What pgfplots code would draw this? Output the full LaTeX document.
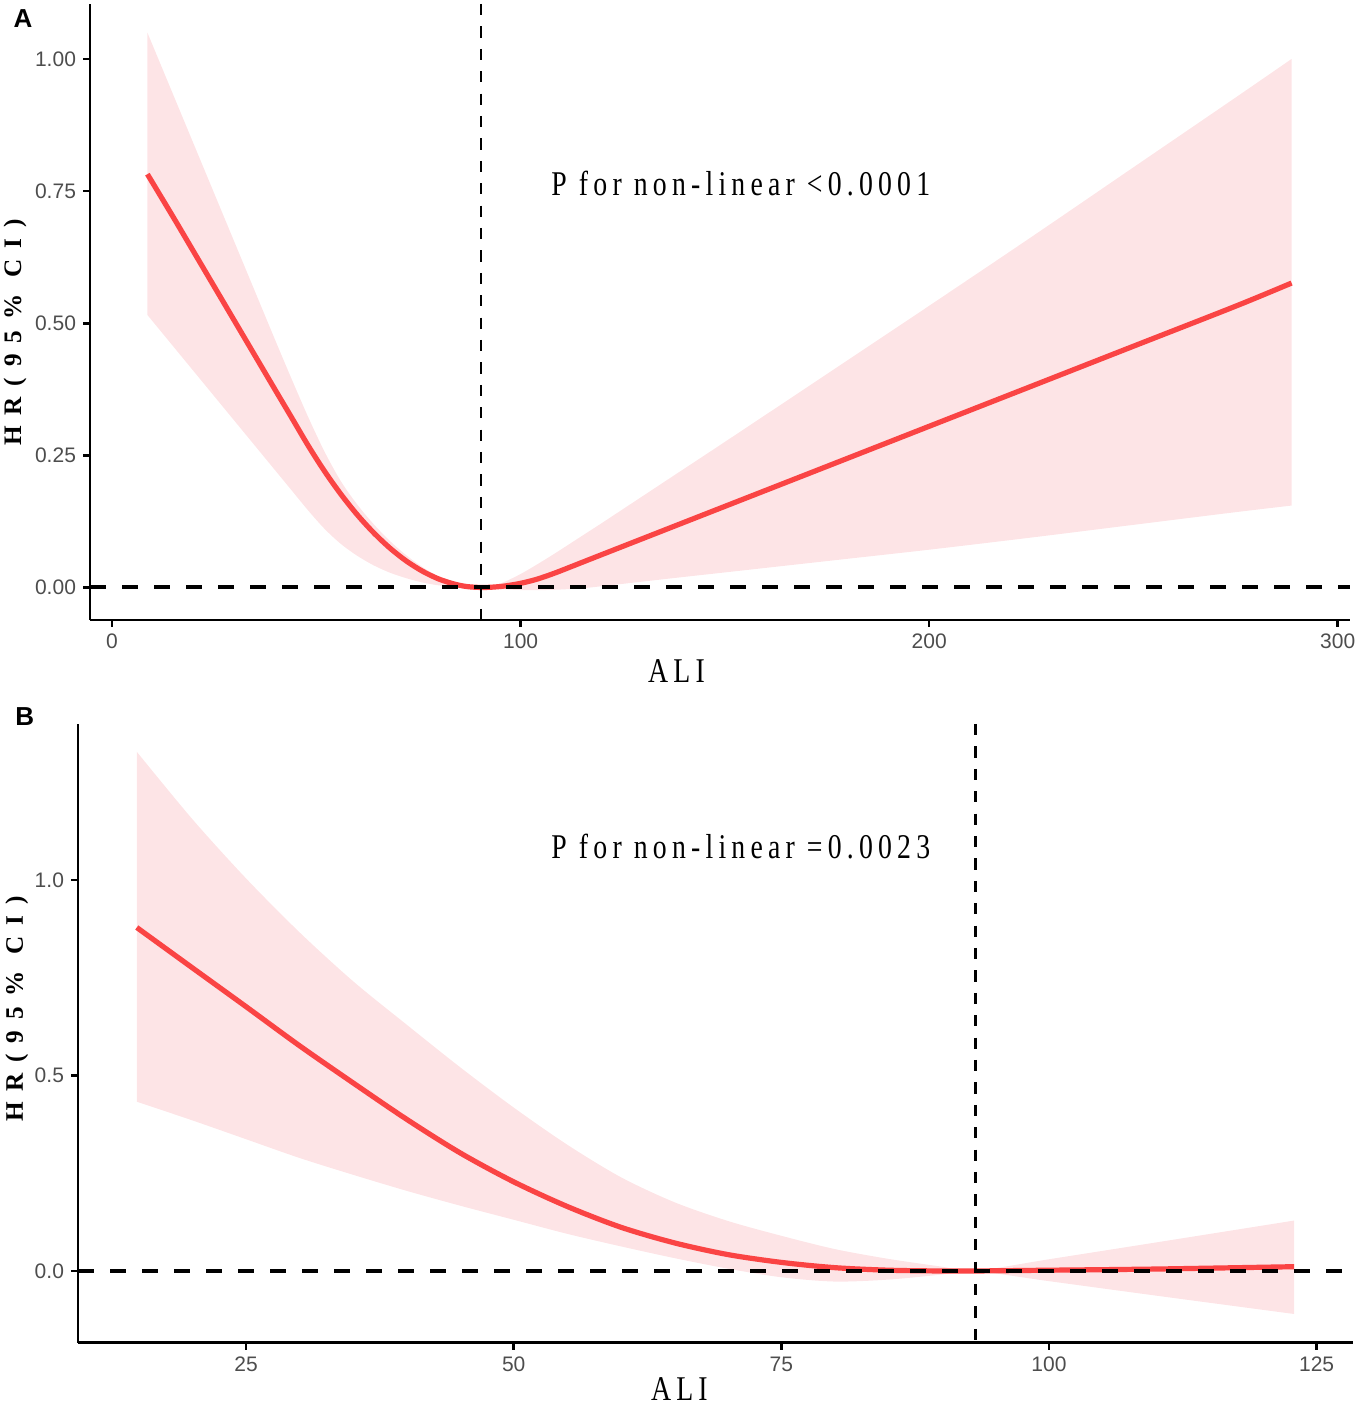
\documentclass[border=0pt]{standalone}
\usepackage{pgfplots}
\pgfplotsset{compat=1.18}
\usepackage{pgfplotstable}
\usepgfplotslibrary{fillbetween}
\usepackage{fontspec}
\setmainfont{Liberation Serif}
\newfontfamily\tickfont{Liberation Sans}
\newfontfamily\labfont[FakeStretch=0.8,LetterSpace=15]{Liberation Serif}
\newfontfamily\ylabfont[LetterSpace=43]{Liberation Serif}
\definecolor{curvered}{RGB}{250,68,68}
\definecolor{bandpink}{RGB}{253,228,230}
\definecolor{tickgrey}{RGB}{77,77,77}

\pgfplotstableread{
x y lo hi
8.65 0.782 0.5156 1.0498
15 0.7004 0.4559 0.9317
20 0.6349 0.4089 0.8387
25 0.5694 0.3619 0.7457
30 0.5039 0.3149 0.6527
35 0.4384 0.2679 0.5597
40 0.3729 0.2209 0.4667
44 0.3208 0.1833 0.3935
48 0.2684 0.1457 0.3225
52 0.2200 0.111 0.2570
56 0.1765 0.0824 0.2010
60 0.1377 0.060 0.1570
64 0.1038 0.042 0.1200
68 0.0746 0.028 0.0880
72 0.0502 0.0176 0.0610
76 0.0307 0.0094 0.0385
80 0.0159 0.004 0.0205
84 0.0060 0.0012 0.0078
87 0.0016 0.0002 0.0023
90.3 0.0 0.0 0.0
93 0.0006 -0.002 0.003
96 0.0027 -0.0035 0.0105
100 0.0079 -0.0048 0.0255
104 0.0157 -0.005 0.0435
108.4 0.0274 -0.0043 0.0645
115 0.0474 -0.0015 0.0975
120 0.0626 0.0025 0.1225
130 0.0929 0.0113 0.1735
140 0.1232 0.020 0.2245
150 0.1535 0.0285 0.2755
175 0.2292 0.050 0.404
200 0.3050 0.0715 0.533
225 0.3807 0.0945 0.663
250 0.4565 0.1185 0.795
275 0.5322 0.1425 0.927
288.7 0.5760 0.155 1.000
}\dataA

\pgfplotstableread{
x y lo hi
14.79 0.8785 0.433 1.328
20 0.775 0.385 1.155
25 0.676 0.337 1.004
30 0.576 0.289 0.866
35 0.481 0.246 0.741
40 0.388 0.205 0.630
45 0.302 0.167 0.521
50 0.228 0.131 0.418
55 0.165 0.095 0.323
60 0.112 0.063 0.240
65 0.072 0.033 0.176
70 0.042 0.006 0.128
75 0.022 -0.016 0.090
80 0.0085 -0.027 0.056
85 0.002 -0.022 0.031
90 0.0 -0.009 0.011
93 0.0 0.0 0.0
100 0.002 -0.026 0.030
110 0.005 -0.063 0.073
122.9 0.011 -0.110 0.129
}\dataB

\pgfplotsset{
  rcs/.style={
    scale only axis,
    anchor=south west,
    axis lines=left,
    axis line style={-, line width=1.3pt, black},
    tick align=outside,
    major tick length=3.5pt,
    tick style={line width=1.3pt, black},
    ticklabel style={font=\tickfont\fontsize{10.5}{12}\selectfont, text=tickgrey},
  }
}

\begin{document}
\begin{tikzpicture}

% Panel A
\begin{axis}[rcs,
  at={(45pt,393pt)}, width=630pt, height=308pt,
  xmin=-5.4, xmax=303, ymin=-0.0615, ymax=1.104,
  xtick={0,100,200,300}, xticklabels={0,100,200,300},
  ytick={0,0.25,0.5,0.75,1}, yticklabels={0.00,0.25,0.50,0.75,1.00},
]
\addplot[name path=upA, draw=none, smooth] table[x=x, y=hi] {\dataA};
\addplot[name path=loA, draw=none, smooth] table[x=x, y=lo] {\dataA};
\addplot[fill=bandpink, draw=none] fill between[of=upA and loA];
\addplot[curvered, line width=2.6pt, smooth] table[x=x, y=y] {\dataA};
\addplot[black, line width=2pt, dash pattern=on 8pt off 8pt] coordinates {(-5.4,0) (303,0)};
\addplot[black, line width=1.4pt, dash pattern=on 5.6pt off 5.6pt] coordinates {(90.3,1.104) (90.3,-0.0615)};
\end{axis}

% Panel B
\begin{axis}[rcs,
  at={(39pt,31.65pt)}, width=637.5pt, height=309.35pt,
  xmin=9.30, xmax=128.4, ymin=-0.1834, ymax=1.399,
  xtick={25,50,75,100,125}, xticklabels={25,50,75,100,125},
  ytick={0,0.5,1}, yticklabels={0.0,0.5,1.0},
]
\addplot[name path=upB, draw=none, smooth] table[x=x, y=hi] {\dataB};
\addplot[name path=loB, draw=none, smooth] table[x=x, y=lo] {\dataB};
\addplot[fill=bandpink, draw=none] fill between[of=upB and loB];
\addplot[curvered, line width=2.6pt, smooth] table[x=x, y=y] {\dataB};
\addplot[black, line width=2pt, dash pattern=on 8pt off 8pt] coordinates {(9.30,0) (128.4,0)};
\addplot[black, line width=1.4pt, dash pattern=on 5.6pt off 5.6pt] coordinates {(93.1,1.399) (93.1,-0.1834)};
\end{axis}

% Texts
\node[anchor=base west, inner sep=0, font=\labfont\fontsize{17.35}{20}\selectfont] at (275.5pt,605.35pt) {P for non-linear <0.0001};
\node[anchor=base west, inner sep=0, font=\labfont\fontsize{17.35}{20}\selectfont] at (275.5pt,273.7pt) {P for non-linear =0.0023};
\node[anchor=base west, inner sep=0, font=\labfont\fontsize{17.35}{20}\selectfont] at (323.9pt,361.5pt) {ALI};
\node[anchor=base west, inner sep=0, font=\labfont\fontsize{17.35}{20}\selectfont] at (325.35pt,2.5pt) {ALI};
\node[rotate=90, inner sep=0, font=\ylabfont\bfseries\fontsize{12.6}{14}\selectfont] at (7.5pt,536.7pt) {HR(95\% CI)};
\node[rotate=90, inner sep=0, font=\ylabfont\bfseries\fontsize{12.6}{14}\selectfont] at (8.35pt,198.5pt) {HR(95\% CI)};
\node[anchor=base west, inner sep=0, font=\tickfont\bfseries\fontsize{13}{15}\selectfont] at (6.65pt,689.15pt) {A};
\node[anchor=base west, inner sep=0, font=\tickfont\bfseries\fontsize{13}{15}\selectfont] at (7.5pt,340pt) {B};

\path (0,0) rectangle (679pt,703pt);
\end{tikzpicture}
\end{document}
